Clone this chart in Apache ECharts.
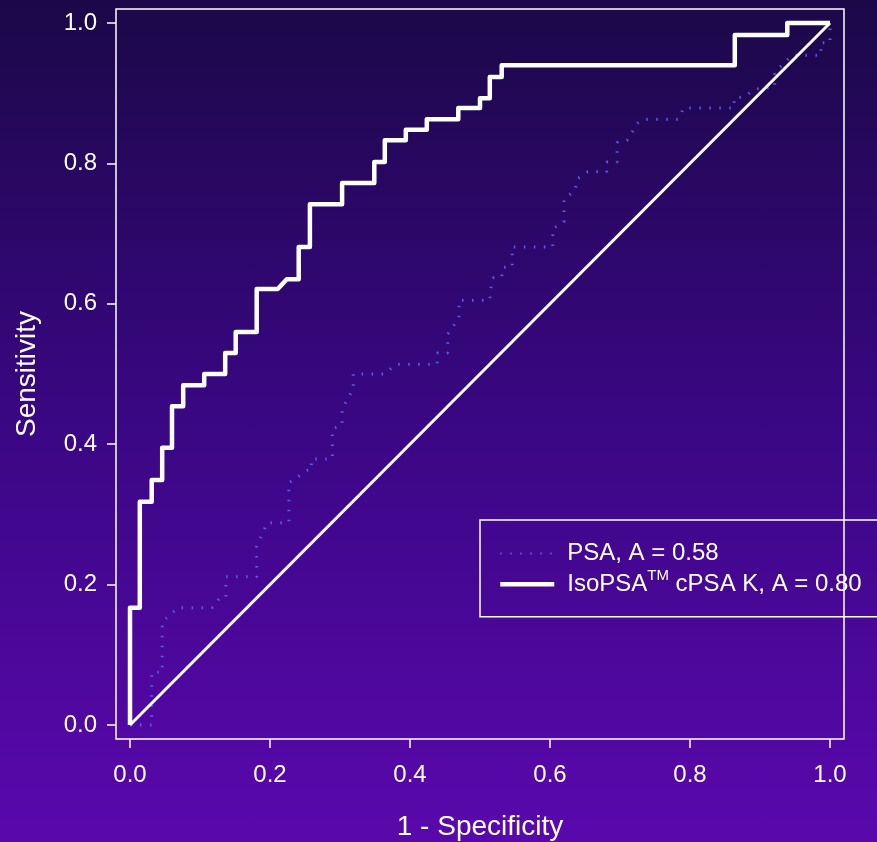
<!DOCTYPE html>
<html>
<head>
<meta charset="utf-8">
<script src="https://cdn.jsdelivr.net/npm/echarts@6/dist/echarts.min.js"></script>
<style>
  html, body { margin: 0; padding: 0; }
  #chart {
    width: 877px;
    height: 842px;
    background: linear-gradient(to bottom, #1b0848 0%, #3a0784 50%, #5a08ad 100%);
  }
</style>
</head>
<body>
<div id="chart"></div>
<script>
// tick positions on both axes
var tickValues = [0, 0.2, 0.4, 0.6, 0.8, 1.0];

// IsoPSA cPSA K ROC curve (corners of the step path)
var isoFpr = [0, 0, 0.014, 0.014, 0.031, 0.031, 0.046, 0.046, 0.06, 0.06,
  0.076, 0.076, 0.106, 0.106, 0.136, 0.136, 0.151, 0.151, 0.181, 0.181,
  0.211, 0.224, 0.241, 0.241, 0.257, 0.257, 0.303, 0.303, 0.349, 0.349,
  0.364, 0.364, 0.394, 0.394, 0.424, 0.424, 0.469, 0.469, 0.5, 0.5,
  0.514, 0.514, 0.531, 0.531, 0.864, 0.864, 0.939, 0.939, 1.0];
var isoTpr = [0, 0.167, 0.167, 0.318, 0.318, 0.349, 0.349, 0.395, 0.395, 0.454,
  0.454, 0.484, 0.484, 0.5, 0.5, 0.53, 0.53, 0.56, 0.56, 0.621,
  0.621, 0.635, 0.635, 0.681, 0.681, 0.742, 0.742, 0.772, 0.772, 0.802,
  0.802, 0.833, 0.833, 0.848, 0.848, 0.863, 0.863, 0.879, 0.879, 0.893,
  0.893, 0.923, 0.923, 0.94, 0.94, 0.983, 0.983, 1.0, 1.0];

// PSA ROC curve
var psaFpr = [0, 0.031, 0.031, 0.046, 0.046, 0.069, 0.117, 0.129, 0.137, 0.137,
  0.181, 0.181, 0.196, 0.227, 0.227, 0.254, 0.259, 0.259, 0.289, 0.289,
  0.303, 0.303, 0.319, 0.319, 0.363, 0.381, 0.439, 0.439, 0.454, 0.454,
  0.47, 0.47, 0.514, 0.516, 0.519, 0.531, 0.533, 0.546, 0.546, 0.604,
  0.604, 0.62, 0.62, 0.636, 0.639, 0.654, 0.681, 0.681, 0.696, 0.696,
  0.71, 0.726, 0.736, 0.783, 0.791, 0.863, 0.863, 0.877, 0.894, 0.921,
  0.921, 0.946, 0.987, 0.987, 1.0, 1.0];
var psaTpr = [0, 0, 0.075, 0.075, 0.147, 0.167, 0.167, 0.182, 0.182, 0.211,
  0.211, 0.254, 0.288, 0.288, 0.345, 0.363, 0.363, 0.379, 0.379, 0.422,
  0.427, 0.45, 0.479, 0.5, 0.5, 0.514, 0.514, 0.53, 0.53, 0.557,
  0.58, 0.605, 0.605, 0.625, 0.637, 0.638, 0.652, 0.652, 0.681, 0.681,
  0.707, 0.717, 0.749, 0.762, 0.778, 0.788, 0.788, 0.802, 0.802, 0.83,
  0.833, 0.858, 0.863, 0.863, 0.879, 0.879, 0.893, 0.895, 0.906, 0.909,
  0.93, 0.954, 0.954, 0.972, 0.972, 1.0];

// reference diagonal
var chanceFpr = [0, 1];
var chanceTpr = [0, 1];

var seriesNames = ['PSA, A = 0.58', 'IsoPSA cPSA K, A = 0.80'];

function pairs(xs, ys) {
  var out = [];
  for (let i = 0; i < xs.length; i++) {
    out.push([xs[i], ys[i]]);
  }
  return out;
}

var font = 'Liberation Sans, Arial, Helvetica, sans-serif';

var chart = echarts.init(document.getElementById('chart'));

var option = {
  animation: false,
  backgroundColor: 'transparent',
  grid: {
    left: 116,
    top: 9,
    width: 728,
    height: 730,
    outerBoundsMode: 'none',
    containLabel: false,
    show: true,
    borderColor: '#ffffff',
    borderWidth: 1.5
  },
  legend: {
    orient: 'vertical',
    left: 480,
    top: 520,
    padding: [21, 18, 20, 18],
    itemGap: 3,
    itemWidth: 54,
    itemHeight: 31,
    borderColor: '#ffffff',
    borderWidth: 1.5,
    itemStyle: { opacity: 0 },
    data: [
      { name: seriesNames[0] },
      { name: seriesNames[1], lineStyle: { width: 4.5, color: '#ffffff' } }
    ],
    formatter: function (name) {
      if (name === seriesNames[1]) {
        return '{t|IsoPSA}{sup|TM}{t| cPSA K, A = 0.80}';
      }
      return '{t|' + name + '}';
    },
    textStyle: {
      color: '#ffffff',
      fontFamily: font,
      fontSize: 24,
      padding: [0, 0, 0, 8],
      rich: {
        t: { color: '#ffffff', fontFamily: font, fontSize: 24, lineHeight: 31 },
        sup: { color: '#ffffff', fontFamily: font, fontSize: 15, lineHeight: 31, verticalAlign: 'top', padding: [0, 0, 6, 0] }
      }
    }
  },
  xAxis: {
    type: 'value',
    min: -0.02,
    max: 1.02,
    axisLine: { show: false, onZero: false },
    splitLine: { show: false },
    axisTick: {
      show: true,
      customValues: tickValues,
      length: 9,
      lineStyle: { color: '#ffffff', width: 1.5 }
    },
    axisLabel: {
      customValues: tickValues,
      formatter: function (v) { return v.toFixed(1); },
      color: '#ffffff',
      fontFamily: font,
      fontSize: 24,
      margin: 24
    },
    name: '1 - Specificity',
    nameLocation: 'middle',
    nameGap: 74,
    nameTextStyle: { color: '#ffffff', fontFamily: font, fontSize: 28 }
  },
  yAxis: {
    type: 'value',
    min: -0.02,
    max: 1.02,
    axisLine: { show: false, onZero: false },
    splitLine: { show: false },
    axisTick: {
      show: true,
      customValues: tickValues,
      length: 9,
      lineStyle: { color: '#ffffff', width: 1.5 }
    },
    axisLabel: {
      customValues: tickValues,
      formatter: function (v) { return v.toFixed(1); },
      color: '#ffffff',
      fontFamily: font,
      fontSize: 24,
      margin: 19
    },
    name: 'Sensitivity',
    nameLocation: 'middle',
    nameRotate: 90,
    nameGap: 75,
    nameTextStyle: { color: '#ffffff', fontFamily: font, fontSize: 28 }
  },
  series: [
    {
      name: seriesNames[0],
      type: 'line',
      symbol: 'none',
      data: pairs(psaFpr, psaTpr),
      lineStyle: { color: '#5c5ce8', width: 3, type: [1.5, 8.5], cap: 'butt' },
      itemStyle: { color: '#5c5ce8' }
    },
    {
      name: seriesNames[1],
      type: 'line',
      symbol: 'none',
      data: pairs(isoFpr, isoTpr),
      lineStyle: { color: '#ffffff', width: 4.5, join: 'round' },
      itemStyle: { color: '#ffffff' }
    },
    {
      name: 'chance',
      type: 'line',
      symbol: 'none',
      data: pairs(chanceFpr, chanceTpr),
      lineStyle: { color: '#ffffff', width: 3 },
      itemStyle: { color: '#ffffff' }
    }
  ]
};

chart.setOption(option);
</script>
</body>
</html>
